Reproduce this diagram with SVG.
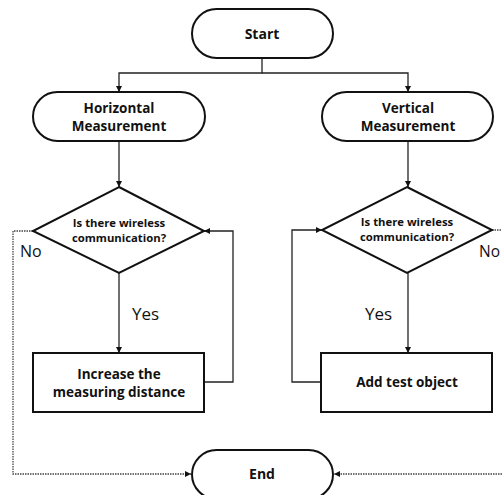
<svg xmlns="http://www.w3.org/2000/svg" width="502" height="495" viewBox="0 0 502 495">
<defs>
<marker id="ah" viewBox="0 0 6 6" refX="6" refY="3" markerWidth="6" markerHeight="6" markerUnits="userSpaceOnUse" orient="auto">
<path d="M0,0 L6,3 L0,6 Z" fill="#111"/>
</marker>
</defs>
<style>
.node{fill:#fff;stroke:#111;stroke-width:2}
.t{font-family:"Open Sans","Noto Sans","Liberation Sans",sans-serif;font-weight:bold;fill:#111;text-anchor:middle}
.lbl{font-family:"Open Sans","Noto Sans","Liberation Sans",sans-serif;fill:#111}
.c{fill:none;stroke:#222;stroke-width:1.3}
.d{fill:none;stroke:#444;stroke-width:1.3;stroke-dasharray:1.5 1}
</style>
<rect width="502" height="495" fill="#fff"/>
<g id="connectors">
<path class="c" d="M262,58 V73 H119 V92" marker-end="url(#ah)"/>
<path class="c" d="M262,73 H408 V92" marker-end="url(#ah)"/>
<path class="c" d="M119,141 V187" marker-end="url(#ah)"/>
<path class="c" d="M408,141 V187" marker-end="url(#ah)"/>
<path class="c" d="M119,273 V353" marker-end="url(#ah)"/>
<path class="c" d="M408,273 V353" marker-end="url(#ah)"/>
<path class="c" d="M204,382 H233 V231 H204" marker-end="url(#ah)"/>
<path class="c" d="M321,382 H292 V230 H322" marker-end="url(#ah)"/>
<path class="d" d="M33,231 H13 V474 H191" marker-end="url(#ah)"/>
<path class="d" d="M492,230 H510 V474 H334" marker-end="url(#ah)"/>
<text class="lbl" x="20" y="257" font-size="16">No</text>
<text class="lbl" x="479" y="257" font-size="15.5">No</text>
<text class="lbl" x="132" y="320" font-size="17">Yes</text>
<text class="lbl" x="365" y="320" font-size="17">Yes</text>
</g>
<g id="start">
<rect class="node" x="192" y="9" width="141" height="49" rx="24.5"/>
<text class="t" x="262" y="39" font-size="14">Start</text>
</g>
<g id="horizontal">
<rect class="node" x="33" y="92" width="172" height="49" rx="24.5"/>
<text class="t" x="119" y="113" font-size="13.5">Horizontal</text>
<text class="t" x="119" y="131" font-size="13.5">Measurement</text>
</g>
<g id="vertical">
<rect class="node" x="322" y="92" width="171" height="49" rx="24.5"/>
<text class="t" x="408" y="113" font-size="13.5">Vertical</text>
<text class="t" x="408" y="131" font-size="13.5">Measurement</text>
</g>
<g id="decision-left">
<polygon class="node" points="119,187 204,231 119,273 33,231"/>
<text class="t" x="119" y="227" font-size="11.3">Is there wireless</text>
<text class="t" x="119" y="242" font-size="11.3">communication?</text>
</g>
<g id="decision-right">
<polygon class="node" points="407,187 492,230 407,273 322,230"/>
<text class="t" x="407" y="226" font-size="11.3">Is there wireless</text>
<text class="t" x="407" y="241" font-size="11.3">communication?</text>
</g>
<g id="increase">
<rect class="node" x="33" y="353" width="171" height="59"/>
<text class="t" x="119" y="379" font-size="13.5">Increase the</text>
<text class="t" x="119" y="397" font-size="13.5">measuring distance</text>
</g>
<g id="addtest">
<rect class="node" x="321" y="353" width="171" height="59"/>
<text class="t" x="407" y="387" font-size="13.5">Add test object</text>
</g>
<g id="end">
<rect class="node" x="192" y="450" width="141" height="49" rx="24.5"/>
<text class="t" x="262" y="479" font-size="14">End</text>
</g>
</svg>
